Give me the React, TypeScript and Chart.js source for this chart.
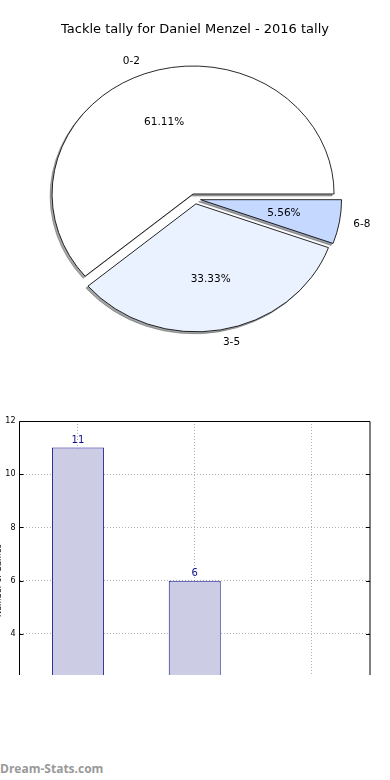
import React, { useEffect, useRef } from "react";
import { Chart, registerables } from "chart.js";

Chart.register(...registerables);

const TITLE = "Tackle tally for Daniel Menzel - 2016 tally";
const CATEGORIES = ["0-2", "3-5", "6-8"];
const GAMES = [11, 6, 1];
const PIE_COLORS = ["#ffffff", "#ebf2ff", "#c5d8ff"];
const Y_TICKS = [0, 2, 4, 6, 8, 10, 12];
const Y_LABEL = "Number of Games";
const FOOTER = "Dream-Stats.com";

const FONT = "'DejaVu Sans', sans-serif";
const R = 128;
const SX = 141 / 128;
const EXPLODE = 0.04;

function hexToRgb(h: string) {
  const n = parseInt(h.slice(1), 16);
  return [(n >> 16) & 255, (n >> 8) & 255, n & 255];
}

const piePlugin = {
  id: "piePlugin",
  beforeDatasetsDraw(chart: any) {
    const ctx = chart.ctx;
    const arcs = chart.getDatasetMeta(0).data as any[];
    const geo = arcs.map((a) => {
      const mid = (a.startAngle + a.endAngle) / 2;
      return {
        mid,
        ax: a.x + EXPLODE * R * SX * Math.cos(mid),
        ay: a.y + EXPLODE * R * Math.sin(mid),
      };
    });
    const drawArc = (a: any, g: any, dx: number, dy: number) => {
      ctx.save();
      ctx.translate(g.ax + dx, g.ay + dy);
      ctx.scale(SX, 1);
      ctx.translate(-a.x, -a.y);
      a.draw(ctx);
      ctx.restore();
    };
    arcs.forEach((a, i) => {
      const saved = a.options;
      const [r, g, b] = hexToRgb(saved.backgroundColor);
      const c = `rgba(${Math.round(r * 0.3)},${Math.round(g * 0.3)},${Math.round(b * 0.3)},0.5)`;
      a.options = Object.assign({}, saved, { backgroundColor: c, borderColor: c });
      drawArc(a, geo[i], -2, 2);
      a.options = saved;
    });
    arcs.forEach((a, i) => drawArc(a, geo[i], 0, 0));
    (chart as any)._pieGeo = geo;
    return false;
  },
  afterDraw(chart: any) {
    const ctx = chart.ctx;
    const geo = (chart as any)._pieGeo;
    if (!geo) return;
    const data = chart.data.datasets[0].data as number[];
    const labels = chart.data.labels as string[];
    const total = data.reduce((s, v) => s + v, 0);
    ctx.save();
    ctx.fillStyle = "#000";
    ctx.font = `10.5px ${FONT}`;
    ctx.textBaseline = "middle";
    geo.forEach((g: any, i: number) => {
      const c = Math.cos(g.mid);
      const s = Math.sin(g.mid);
      const lx = g.ax + 1.1 * R * SX * c;
      const ly = g.ay + 1.1 * R * s;
      ctx.textAlign = c > 0 ? "left" : "right";
      ctx.fillText(labels[i], lx, ly);
      const px = g.ax + 0.6 * R * SX * c;
      const py = g.ay + 0.6 * R * s;
      ctx.textAlign = "center";
      ctx.fillText(((data[i] / total) * 100).toFixed(2) + "%", px, py);
    });
    ctx.restore();
  },
};

const barPlugin = {
  id: "barPlugin",
  afterDatasetsDraw(chart: any) {
    const ctx = chart.ctx;
    const { left, right, top, bottom } = chart.chartArea;
    const y = chart.scales.y;
    ctx.save();
    // value labels
    ctx.fillStyle = "#10108c";
    ctx.font = `10px ${FONT}`;
    ctx.textAlign = "center";
    ctx.textBaseline = "alphabetic";
    const bars = chart.getDatasetMeta(0).data as any[];
    const vals = chart.data.datasets[0].data as number[];
    bars.forEach((b, i) => {
      ctx.fillText(String(vals[i]), b.x, b.y - 4.5);
    });
    // frame
    ctx.strokeStyle = "#000";
    ctx.lineWidth = 1;
    ctx.beginPath();
    ctx.moveTo(left, bottom);
    ctx.lineTo(left, top + 0.5);
    ctx.lineTo(right, top + 0.5);
    ctx.lineTo(right, bottom);
    ctx.stroke();
    // inner ticks
    ctx.beginPath();
    y.ticks.forEach((t: any) => {
      const py = Math.round(y.getPixelForValue(t.value)) + 0.5;
      ctx.moveTo(left, py);
      ctx.lineTo(left + 4, py);
      ctx.moveTo(right, py);
      ctx.lineTo(right - 4, py);
    });
    ctx.stroke();
    ctx.restore();
  },
};

export default function App() {
  const pieRef = useRef<HTMLCanvasElement>(null);
  const barRef = useRef<HTMLCanvasElement>(null);

  useEffect(() => {
    const revLabels = [...CATEGORIES].reverse();
    const revData = [...GAMES].reverse();
    const revColors = [...PIE_COLORS].reverse();
    const pie = new Chart(pieRef.current!, {
      type: "pie",
      data: {
        labels: revLabels,
        datasets: [
          {
            data: revData,
            backgroundColor: revColors,
            borderColor: "#000",
            borderWidth: 0.8,
            rotation: 90,
            radius: R,
          } as any,
        ],
      },
      options: {
        responsive: false,
        animation: false,
        devicePixelRatio: 1,
        events: [],
        layout: { padding: { top: 0, bottom: 40, left: 0, right: 0 } },
        plugins: {
          legend: { display: false },
          tooltip: { enabled: false },
          title: {
            display: true,
            text: TITLE,
            color: "#000",
            font: { family: FONT, size: 13, weight: "normal" as any },
            padding: { top: 22, bottom: 0 },
          },
        },
      } as any,
      plugins: [piePlugin],
    });

    const bar = new Chart(barRef.current!, {
      type: "bar",
      data: {
        labels: CATEGORIES,
        datasets: [
          {
            data: GAMES,
            backgroundColor: "rgb(204,204,228)",
            borderColor: "#10108c",
            borderWidth: 1,
            barPercentage: 0.445,
            categoryPercentage: 1,
          },
        ],
      },
      options: {
        responsive: false,
        animation: false,
        devicePixelRatio: 1,
        events: [],
        layout: { padding: { top: 21, right: 20, bottom: 39.7, left: 0 } },
        plugins: { legend: { display: false }, tooltip: { enabled: false } },
        scales: {
          x: {
            grid: { offset: false, drawTicks: false, color: "rgba(0,0,0,0.3)" },
            border: { display: false, dash: [1, 2] },
            ticks: { display: false },
          },
          y: {
            min: 0,
            max: 12,
            afterBuildTicks: (s: any) => {
              s.ticks = Y_TICKS.map((v) => ({ value: v }));
            },
            afterFit: (s: any) => {
              s.width = 27.5;
            },
            ticks: { padding: 4, color: "#000", font: { family: FONT, size: 8 } },
            grid: { drawTicks: false, color: "rgba(0,0,0,0.3)" },
            border: { display: false, dash: [1, 2] },
            title: {
              display: true,
              text: Y_LABEL,
              color: "#000",
              font: { family: FONT, size: 8 },
              padding: { top: 2, bottom: 0 },
            },
          },
        },
      } as any,
      plugins: [barPlugin],
    });

    return () => {
      pie.destroy();
      bar.destroy();
    };
  }, []);

  return (
    <div
      style={{
        position: "absolute",
        left: 0,
        top: 0,
        width: 390,
        height: 780,
        overflow: "hidden",
        background: "#fff",
      }}
    >
      <canvas
        ref={pieRef}
        width={390}
        height={400}
        style={{ position: "absolute", left: 0, top: 0, width: 390, height: 400 }}
      />
      <div
        style={{
          position: "absolute",
          left: 0,
          top: 400,
          width: 390,
          height: 275,
          overflow: "hidden",
        }}
      >
        <canvas
          ref={barRef}
          width={398}
          height={380}
          style={{ position: "absolute", left: -8, top: 0, width: 398, height: 380 }}
        />
      </div>
      <div
        style={{
          position: "absolute",
          left: 0,
          top: 761,
          fontFamily: "'Open Sans', sans-serif",
          fontWeight: 700,
          fontSize: 12,
          lineHeight: "16px",
          color: "#999",
          whiteSpace: "nowrap",
        }}
      >
        {FOOTER}
      </div>
    </div>
  );
}
